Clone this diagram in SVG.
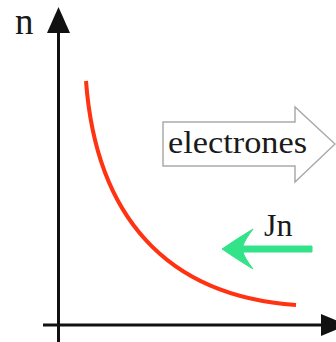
<svg xmlns="http://www.w3.org/2000/svg" width="336" height="342" viewBox="0 0 336 342">
<style>
.lbl{font-family:"Liberation Serif","Times New Roman",serif;fill:#1a1a1a}
.axis{stroke:#111;stroke-width:3;fill:none}
</style>
<rect width="336" height="342" fill="#fff"/>
<g id="axes">
<line class="axis" x1="58.5" y1="30" x2="58.5" y2="342"/>
<polygon points="58.5,7 70,33 47,33" fill="#111"/>
<line class="axis" x1="43" y1="325" x2="322" y2="325"/>
<polygon points="347,325 321,314 321,336" fill="#111"/>
</g>
<g id="curve">
<path d="M86,81 C96,215 165,296 296,305" fill="none" stroke="#ff3311" stroke-width="4" stroke-linecap="butt"/>
</g>
<g id="electrones">
<path d="M163,122 L295,122 L295,107 L335,144 L295,182 L295,166 L163,166 Z" fill="#fff" stroke="#aaa" stroke-width="1.5" stroke-linejoin="miter"/>
<text class="lbl" x="168" y="153" font-size="32" textLength="139" lengthAdjust="spacingAndGlyphs">electrones</text>
</g>
<g id="jn">
<path d="M222,249 Q238,238 253,229 Q244,241 243,246 L312,246 L312,252 L243,252 Q244,257 253,269 Q238,260 222,249 Z" fill="#33e38a" stroke="#33e38a" stroke-width="1" stroke-linejoin="round"/>
<text class="lbl" x="264" y="236" font-size="32">Jn</text>
</g>
<g id="label-n">
<text class="lbl" x="15" y="34" font-size="37">n</text>
</g>
</svg>
